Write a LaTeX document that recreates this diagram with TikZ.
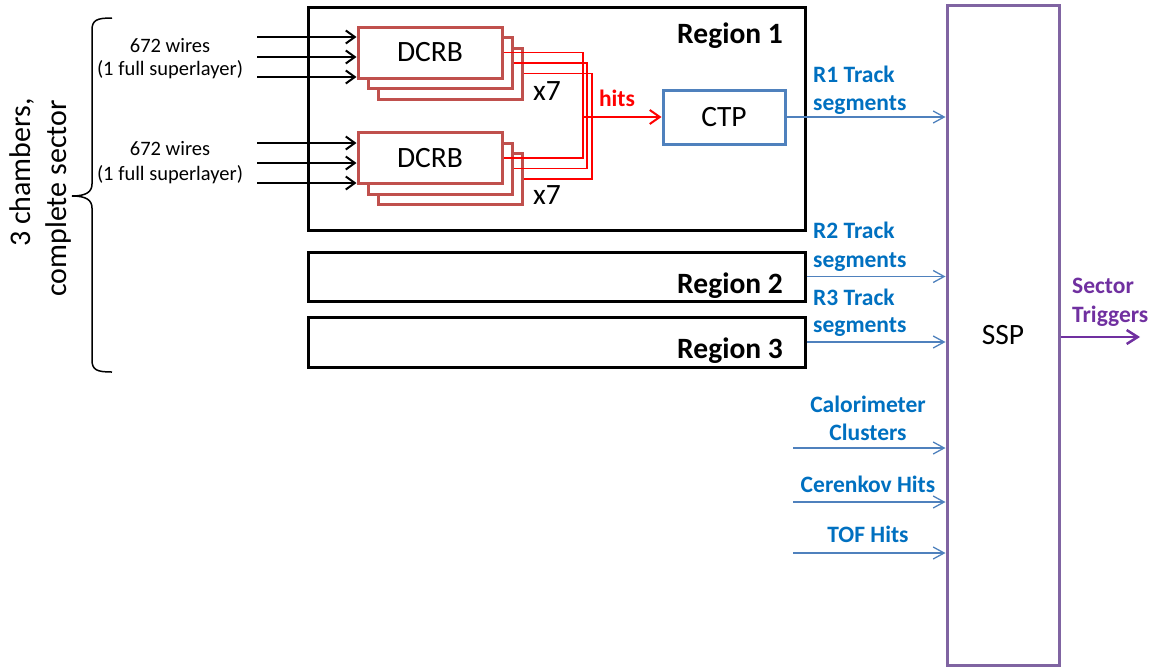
\documentclass[tikz,border=0pt]{standalone}
\usepackage{fontspec}
\setmainfont{Carlito}
\usetikzlibrary{arrows.meta}
\definecolor{dcrbred}{RGB}{192,80,77}
\definecolor{ctpblue}{RGB}{79,129,189}
\definecolor{lblblue}{RGB}{0,112,192}
\definecolor{ssppurple}{RGB}{128,100,162}
\definecolor{trigpurple}{RGB}{112,48,160}
\definecolor{hitred}{RGB}{255,0,0}
\begin{document}
\begin{tikzpicture}[x=1pt,y=-1pt,
  bigb/.style={font=\fontsize{29.5}{35}\selectfont\bfseries, inner sep=0pt},
  bigr/.style={font=\fontsize{29.5}{35}\selectfont, inner sep=0pt},
  lbl/.style={font=\fontsize{23.5}{28}\selectfont\bfseries, text=lblblue, inner sep=0pt},
  small/.style={font=\fontsize{20.5}{24}\selectfont, inner sep=0pt},
  rot/.style={font=\fontsize{30}{36}\selectfont, inner sep=0pt, rotate=90},
  regbox/.style={draw=black, line width=3pt, minimum width=497pt, inner sep=0pt},
  dcrbbox/.style={draw=dcrbred, line width=3pt, fill=white, minimum width=144pt, minimum height=51pt, inner sep=0pt, font=\fontsize{29.5}{35}\selectfont},
  ctpbox/.style={draw=ctpblue, line width=3pt, fill=white, minimum width=122pt, minimum height=54pt, inner sep=0pt, font=\fontsize{29.5}{35}\selectfont},
  sspbox/.style={draw=ssppurple, line width=3pt, minimum width=112pt, minimum height=660pt, inner sep=0pt, font=\fontsize{29.5}{35}\selectfont},
  wire/.style={draw=black, line width=2pt, -{Straight Barb[length=9pt,width=13pt]}},
  feed/.style={draw=ctpblue, line width=1.3pt, -{Straight Barb[length=11pt,width=12pt]}},
  redbus/.style={draw=hitred, line width=1.5pt},
  hitsarrow/.style={draw=hitred, line width=2pt, -{Straight Barb[length=10pt,width=14pt]}},
  trigarrow/.style={draw=trigpurple, line width=2.5pt, -{Straight Barb[length=11pt,width=14pt]}},
  bracepath/.style={draw=black, line width=1.5pt}
]
\useasboundingbox (0,0) rectangle (1150,667);

% region boxes
\node[regbox, minimum height=223pt] (r1) at (556.5,118.5) {};
\node[regbox, minimum height=49pt] (r2) at (556.5,276.5) {};
\node[regbox, minimum height=50pt] (r3) at (556.5,342) {};
\node[bigb, anchor=base east] (r1t) at (783,43) {Region 1};
\node[bigb, anchor=base east] (r2t) at (783,293) {Region 2};
\node[bigb, anchor=base east] (r3t) at (783,358) {Region 3};

% SSP
\node[sspbox] (ssp) at (1003,335) {SSP};

% DCRB stacks (back to front)
\node[dcrbbox] (d1c) at (450,73.5) {};
\node[dcrbbox] (d1b) at (440,63) {};
\node[dcrbbox] (d1a) at (430,52.5) {DCRB};
\node[dcrbbox] (d2c) at (450,179) {};
\node[dcrbbox] (d2b) at (440,168.5) {};
\node[dcrbbox] (d2a) at (430,158) {DCRB};
\node[bigr, anchor=base west] (x7a) at (533,100) {x7};
\node[bigr, anchor=base west] (x7b) at (533,204) {x7};

% CTP
\node[ctpbox] (ctp) at (724,117) {CTP};

% wire inputs
\node[small, anchor=base] (w1) at (170,52) {672 wires};
\node[small, anchor=base] (w1s) at (170,75) {(1 full superlayer)};
\node[small, anchor=base] (w2) at (170,155) {672 wires};
\node[small, anchor=base] (w2s) at (170,180) {(1 full superlayer)};
\coordinate (i1) at (257,37);
\coordinate (i2) at (257,57);
\coordinate (i3) at (257,77);
\coordinate (i4) at (257,143);
\coordinate (i5) at (257,163);
\coordinate (i6) at (257,183);
\draw[wire] (i1) -- (i1 -| d1a.west);
\draw[wire] (i2) -- (i2 -| d1a.west);
\draw[wire] (i3) -- (i3 -| d1a.west);
\draw[wire] (i4) -- (i4 -| d2a.west);
\draw[wire] (i5) -- (i5 -| d2a.west);
\draw[wire] (i6) -- (i6 -| d2a.west);

% red hit buses
\coordinate (busA) at (583,0);
\coordinate (busB) at (587,0);
\coordinate (busC) at (592,0);
\draw[redbus] (d1a.east) -- (d1a.east -| busA) -- (d2a.east -| busA) -- (d2a.east);
\draw[redbus] (d1b.east) -- (d1b.east -| busB) -- (d2b.east -| busB) -- (d2b.east);
\draw[redbus] (d1c.east) -- (d1c.east -| busC) -- (d2c.east -| busC) -- (d2c.east);
\draw[hitsarrow] (ctp.west -| busA) -- (ctp.west);
\node[font=\fontsize{23.5}{28}\selectfont\bfseries, text=hitred, inner sep=0pt, anchor=base] (hits) at (617,106) {hits};

% feeds into SSP
\draw[feed] (ctp.east) -- (ctp.east -| ssp.west);
\draw[feed] (r2.east) -- (r2.east -| ssp.west);
\draw[feed] (r3.east) -- (r3.east -| ssp.west);
\coordinate (cal) at (793,448);
\coordinate (cer) at (793,502);
\coordinate (tof) at (793,553);
\draw[feed] (cal) -- (cal -| ssp.west);
\draw[feed] (cer) -- (cer -| ssp.west);
\draw[feed] (tof) -- (tof -| ssp.west);

\node[lbl, anchor=base west] (l1a) at (813,82) {R1 Track};
\node[lbl, anchor=base west] (l1b) at (813,110) {segments};
\node[lbl, anchor=base west] (l2a) at (813,238) {R2 Track};
\node[lbl, anchor=base west] (l2b) at (813,267) {segments};
\node[lbl, anchor=base west] (l3a) at (813,305) {R3 Track};
\node[lbl, anchor=base west] (l3b) at (813,332) {segments};
\node[lbl, anchor=base] (lca) at (868,412) {Calorimeter};
\node[lbl, anchor=base] (lcb) at (868,440) {Clusters};
\node[lbl, anchor=base] (lce) at (868,492) {Cerenkov Hits};
\node[lbl, anchor=base] (lto) at (868,542) {TOF Hits};

% sector triggers
\coordinate (trig) at (1140,337);
\draw[trigarrow] (trig -| ssp.east) -- (trig);
\node[font=\fontsize{23.5}{28}\selectfont\bfseries, text=trigpurple, inner sep=0pt, anchor=base west] (st1) at (1072,293) {Sector};
\node[font=\fontsize{23.5}{28}\selectfont\bfseries, text=trigpurple, inner sep=0pt, anchor=base west] (st2) at (1072,322) {Triggers};

% brace and rotated label
\draw[bracepath] (112,18) .. controls (97,18) and (92,20) .. (92,30) -- (92,184)
  .. controls (92,192) and (86,196) .. (72,196)
  .. controls (86,196) and (92,200) .. (92,208) -- (92,360)
  .. controls (92,370) and (97,372) .. (112,372);
\node[rot, anchor=base east] (ch1) at (30,98) {3 chambers,};
\node[rot, anchor=base east] (ch2) at (66,100) {complete sector};
\end{tikzpicture}
\end{document}
